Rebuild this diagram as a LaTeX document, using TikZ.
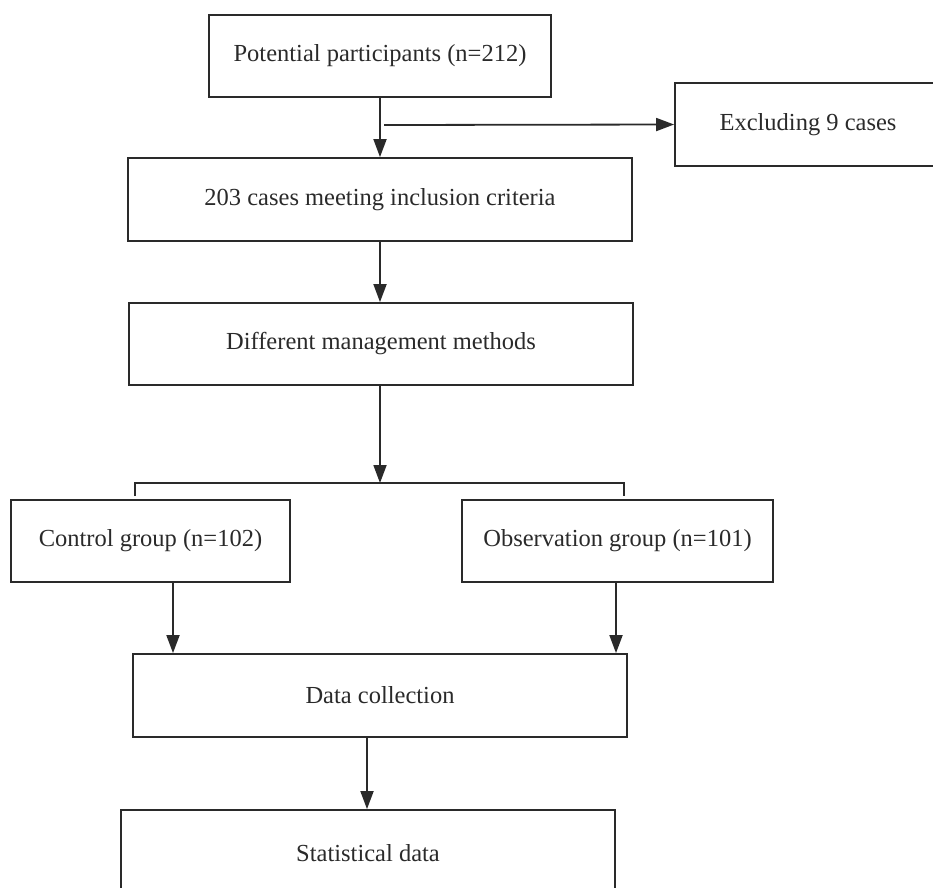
\documentclass[tikz,border=0pt]{standalone}
\usepackage{fontspec}
\setmainfont{Liberation Serif}
\usetikzlibrary{arrows.meta,calc}
\definecolor{ink}{HTML}{2A2A2A}
\begin{document}
\begin{tikzpicture}[x=1pt,y=-1pt,
  box/.style={draw=ink,line width=1.8pt,rectangle,inner sep=0pt,text=ink,
    font=\fontsize{24.5}{28}\selectfont},
  arr/.style={draw=ink,line width=1.8pt,-{Triangle[width=13pt,length=18pt]}},
  ln/.style={draw=ink,line width=1.8pt}]
\useasboundingbox (0,0) rectangle (933,887);
\node[box,minimum width=342,minimum height=82] (p) at (380,56) {\raisebox{-2pt}{Potential participants (n=212)}};
\node[box,minimum width=266,minimum height=83] (ex) at (808,124.5) {\raisebox{-2pt}{Excluding 9 cases}};
\node[box,minimum width=504,minimum height=83] (inc) at (380,199.5) {\raisebox{-2pt}{203 cases meeting inclusion criteria}};
\node[box,minimum width=504,minimum height=82] (dm) at (381,344) {\raisebox{-2pt}{Different management methods}};
\node[box,minimum width=279,minimum height=82] (ctrl) at (150.5,541) {\raisebox{-2pt}{Control group (n=102)}};
\node[box,minimum width=311,minimum height=82] (obs) at (617.5,541) {\raisebox{-2pt}{Observation group (n=101)}};
\node[box,minimum width=494,minimum height=83] (dc) at (380,695.5) {\raisebox{-2pt}{Data collection}};
\node[box,minimum width=494,minimum height=86] (sd) at (368,853) {\raisebox{-2pt}{Statistical data}};
\coordinate (br) at (384,125);
\coordinate (split) at (380,483);
\coordinate (bl) at (135,496);
\coordinate (brr) at (624,496);
\draw[arr] (p.south) -- (inc.north);
\draw[arr] (br) -- (ex.west);
\draw[arr] (inc.south) -- (inc.south |- dm.north);
\draw[arr] ([xshift=-1pt]dm.south) -- (split);
\draw[ln] (bl) -- (bl |- split) -- (brr |- split) -- (brr);
\draw[arr] ([xshift=22.5pt]ctrl.south) -- ([xshift=22.5pt]ctrl.south |- dc.north);
\draw[arr] ([xshift=-1.5pt]obs.south) -- ([xshift=-1.5pt]obs.south |- dc.north);
\draw[arr] ([xshift=-13pt]dc.south) -- ([xshift=-13pt]dc.south |- sd.north);
\end{tikzpicture}
\end{document}
